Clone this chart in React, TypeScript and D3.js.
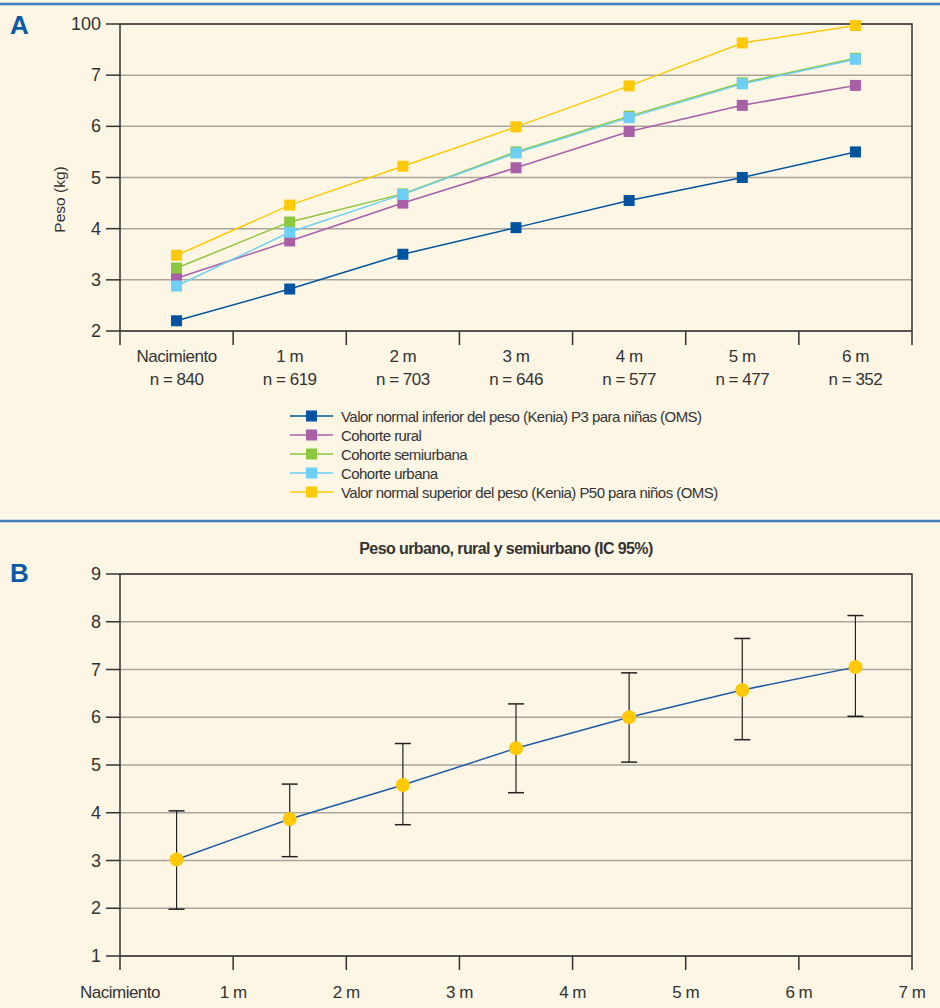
import React, { useEffect, useRef } from 'react';
import * as d3 from 'd3';

// panel A
const ages = ['Nacimiento', '1 m', '2 m', '3 m', '4 m', '5 m', '6 m'];
const counts = ['n = 840', 'n = 619', 'n = 703', 'n = 646', 'n = 577', 'n = 477', 'n = 352'];
const p3Girls = [2.2, 2.82, 3.5, 4.02, 4.55, 5.0, 5.5];
const rural = [3.03, 3.76, 4.5, 5.19, 5.9, 6.41, 6.8];
const semiurban = [3.23, 4.13, 4.68, 5.5, 6.2, 6.85, 7.33];
const urban = [2.88, 3.93, 4.67, 5.48, 6.17, 6.83, 7.31];
const p50Boys = [3.48, 4.46, 5.22, 5.99, 6.79, 7.63, 7.97];
const seriesNames = [
  'Valor normal inferior del peso (Kenia) P3 para niñas (OMS)',
  'Cohorte rural',
  'Cohorte semiurbana',
  'Cohorte urbana',
  'Valor normal superior del peso (Kenia) P50 para niños (OMS)',
];
const seriesColors = ['#00539f', '#a85fa8', '#8dc63f', '#6dcff6', '#ffc907'];
const yTicksA = [2, 3, 4, 5, 6, 7, 8];
const yLabelsA = ['2', '3', '4', '5', '6', '7', '100'];

// panel B
const monthsB = [0.5, 1.5, 2.5, 3.5, 4.5, 5.5, 6.5];
const meanB = [3.02, 3.87, 4.58, 5.35, 6.0, 6.57, 7.05];
const lowB = [1.98, 3.08, 3.75, 4.42, 5.06, 5.53, 6.02];
const highB = [4.04, 4.6, 5.45, 6.28, 6.93, 7.65, 8.13];
const xLabelsB = ['Nacimiento', '1 m', '2 m', '3 m', '4 m', '5 m', '6 m', '7 m'];

const FONT = '"Liberation Sans", Arial, sans-serif';

export default function App() {
  const svgRef = useRef<SVGSVGElement>(null);

  useEffect(() => {
    const svg = d3.select(svgRef.current);
    svg.selectAll('*').remove();
    const W = 940, H = 1008;

    svg.append('rect').attr('width', W).attr('height', H).attr('fill', '#fef6e5');

    // separators
    [4, 521].forEach(y => {
      svg.append('line').attr('x1', 0).attr('x2', W).attr('y1', y).attr('y2', y)
        .attr('stroke', '#3f80c2').attr('stroke-width', 2.5);
    });

    // ---------- panel A ----------
    const L = 120, R = 912;
    const topA = 24, botA = 331;
    const xA = d3.scaleBand().domain(ages).range([L, R]);
    const yA = d3.scaleLinear().domain([2, 8]).range([botA, topA]);

    svg.append('text').text('A').attr('x', 10).attr('y', 34)
      .attr('font-family', FONT).attr('font-weight', 'bold').attr('font-size', 26).attr('fill', '#0a5aa8');

    const gA = svg.append('g');
    gA.selectAll('line.grid').data(yTicksA).join('line')
      .attr('x1', L).attr('x2', R).attr('y1', d => yA(d)).attr('y2', d => yA(d))
      .attr('stroke', '#a8a59e').attr('stroke-width', 1.5);
    gA.append('rect').attr('x', L).attr('y', topA).attr('width', R - L).attr('height', botA - topA)
      .attr('fill', 'none').attr('stroke', '#333').attr('stroke-width', 1.5);

    // y axis
    gA.selectAll('line.yt').data(yTicksA).join('line')
      .attr('x1', L - 14).attr('x2', L).attr('y1', d => yA(d)).attr('y2', d => yA(d))
      .attr('stroke', '#333').attr('stroke-width', 1.5);
    gA.selectAll('text.yl').data(yTicksA).join('text')
      .text((d, i) => yLabelsA[i])
      .attr('x', L - 19).attr('y', d => yA(d) + 6)
      .attr('text-anchor', 'end').attr('font-family', FONT).attr('font-size', 18).attr('fill', '#333');
    gA.append('text').text('Peso (kg)')
      .attr('transform', `translate(65,${(topA + botA) / 2 + 22}) rotate(-90)`)
      .attr('text-anchor', 'middle').attr('font-family', FONT).attr('font-size', 15.5).attr('fill', '#333');

    // x axis
    const xTickPos = ages.map(a => xA(a) as number).concat([R]);
    gA.selectAll('line.xt').data(xTickPos).join('line')
      .attr('x1', d => d).attr('x2', d => d).attr('y1', botA).attr('y2', botA + 14)
      .attr('stroke', '#333').attr('stroke-width', 1.5);
    gA.selectAll('text.xl1').data(ages).join('text')
      .text(d => d)
      .attr('x', d => (xA(d) as number) + xA.bandwidth() / 2).attr('y', 362)
      .attr('text-anchor', 'middle').attr('font-family', FONT).attr('font-size', 17)
      .attr('letter-spacing', -0.5).attr('fill', '#333');
    gA.selectAll('text.xl2').data(counts).join('text')
      .text(d => d)
      .attr('x', (d, i) => (xA(ages[i]) as number) + xA.bandwidth() / 2).attr('y', 385)
      .attr('text-anchor', 'middle').attr('font-family', FONT).attr('font-size', 17)
      .attr('letter-spacing', -0.5).attr('fill', '#333');

    // series
    const allSeries = [p3Girls, rural, semiurban, urban, p50Boys];
    const cx = (i: number) => (xA(ages[i]) as number) + xA.bandwidth() / 2;
    const line = d3.line<number>().x((d, i) => cx(i)).y(d => yA(d));
    allSeries.forEach((s, k) => {
      gA.append('path').datum(s).attr('d', line)
        .attr('fill', 'none').attr('stroke', seriesColors[k]).attr('stroke-width', 1.5);
    });
    allSeries.forEach((s, k) => {
      gA.selectAll(null).data(s).join('rect')
        .attr('x', (d, i) => cx(i) - 5.5).attr('y', d => yA(d) - 5.5)
        .attr('width', 11).attr('height', 11).attr('fill', seriesColors[k]);
    });

    // legend
    const lg = svg.append('g').attr('transform', 'translate(290,416)');
    seriesNames.forEach((name, i) => {
      const y = i * 19;
      lg.append('line').attr('x1', 0).attr('x2', 43).attr('y1', y).attr('y2', y)
        .attr('stroke', seriesColors[i]).attr('stroke-width', 1.5);
      lg.append('rect').attr('x', 16).attr('y', y - 5.5).attr('width', 11).attr('height', 11)
        .attr('fill', seriesColors[i]);
      lg.append('text').text(name).attr('x', 51).attr('y', y + 5.5)
        .attr('font-family', FONT).attr('font-size', 15).attr('letter-spacing', -0.55).attr('fill', '#333');
    });

    // ---------- panel B ----------
    const topB = 574, botB = 956;
    const xB = d3.scaleLinear().domain([0, 7]).range([L, R]);
    const yB = d3.scaleLinear().domain([1, 9]).range([botB, topB]);
    const yTicksB = d3.range(1, 10);

    svg.append('text').text('B').attr('x', 10).attr('y', 582)
      .attr('font-family', FONT).attr('font-weight', 'bold').attr('font-size', 26).attr('fill', '#0a5aa8');
    svg.append('text').text('Peso urbano, rural y semiurbano (IC 95%)')
      .attr('x', (L + R) / 2 - 10).attr('y', 554).attr('text-anchor', 'middle')
      .attr('font-family', FONT).attr('font-weight', 'bold').attr('font-size', 16)
      .attr('letter-spacing', -0.6).attr('fill', '#333');

    const gB = svg.append('g');
    gB.selectAll('line.grid').data(yTicksB).join('line')
      .attr('x1', L).attr('x2', R).attr('y1', d => yB(d)).attr('y2', d => yB(d))
      .attr('stroke', '#a8a59e').attr('stroke-width', 1.5);
    gB.append('rect').attr('x', L).attr('y', topB).attr('width', R - L).attr('height', botB - topB)
      .attr('fill', 'none').attr('stroke', '#333').attr('stroke-width', 1.5);

    gB.selectAll('line.yt').data(yTicksB).join('line')
      .attr('x1', L - 14).attr('x2', L).attr('y1', d => yB(d)).attr('y2', d => yB(d))
      .attr('stroke', '#333').attr('stroke-width', 1.5);
    gB.selectAll('text.yl').data(yTicksB).join('text')
      .text(d => String(d))
      .attr('x', L - 19).attr('y', d => yB(d) + 6)
      .attr('text-anchor', 'end').attr('font-family', FONT).attr('font-size', 18).attr('fill', '#333');

    const xTicksB = d3.range(0, 8);
    gB.selectAll('line.xt').data(xTicksB).join('line')
      .attr('x1', d => xB(d)).attr('x2', d => xB(d)).attr('y1', botB).attr('y2', botB + 14)
      .attr('stroke', '#333').attr('stroke-width', 1.5);
    gB.selectAll('text.xl').data(xTicksB).join('text')
      .text(d => xLabelsB[d])
      .attr('x', d => xB(d)).attr('y', 998)
      .attr('text-anchor', 'middle').attr('font-family', FONT).attr('font-size', 17)
      .attr('letter-spacing', -0.5).attr('fill', '#333');

    const lineB = d3.line<number>().x((d, i) => xB(monthsB[i])).y(d => yB(d));
    gB.append('path').datum(meanB).attr('d', lineB)
      .attr('fill', 'none').attr('stroke', '#1f5aa6').attr('stroke-width', 1.5);

    monthsB.forEach((m, i) => {
      const x = xB(m);
      gB.append('line').attr('x1', x).attr('x2', x).attr('y1', yB(lowB[i])).attr('y2', yB(highB[i]))
        .attr('stroke', '#222').attr('stroke-width', 1.2);
      [lowB[i], highB[i]].forEach(v => {
        gB.append('line').attr('x1', x - 8).attr('x2', x + 8).attr('y1', yB(v)).attr('y2', yB(v))
          .attr('stroke', '#222').attr('stroke-width', 1.5);
      });
    });
    gB.selectAll('circle').data(meanB).join('circle')
      .attr('cx', (d, i) => xB(monthsB[i])).attr('cy', d => yB(d)).attr('r', 7)
      .attr('fill', '#ffc907');
  }, []);

  return (
    <svg ref={svgRef} width={940} height={1008}
      style={{ position: 'absolute', left: 0, top: 0, display: 'block' }} />
  );
}
